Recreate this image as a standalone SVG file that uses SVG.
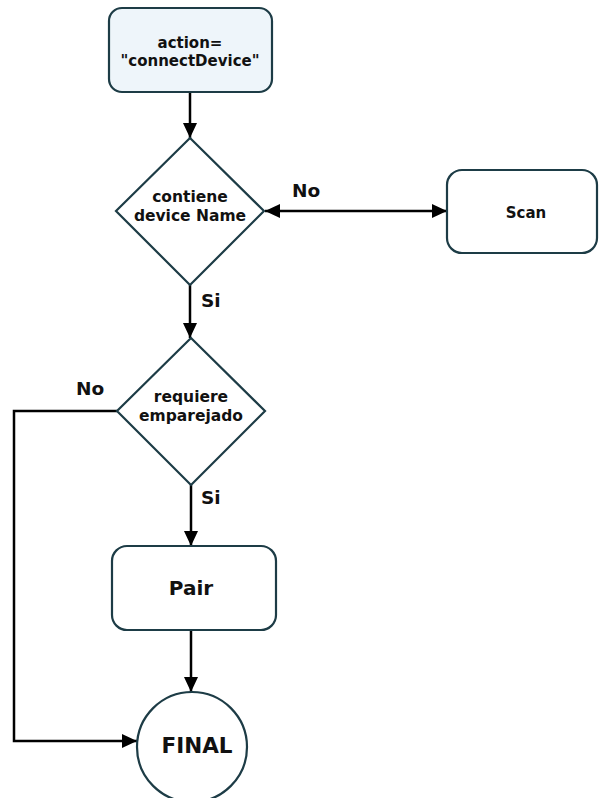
<svg xmlns="http://www.w3.org/2000/svg" width="600" height="798" viewBox="0 0 600 798">
<defs>
<style>
.node{stroke:#1d3c46;stroke-width:2.2;fill:#ffffff}
.start{fill:#eef5fa}
.t{font-family:"DejaVu Sans",Verdana,sans-serif;font-weight:bold;fill:#111;text-anchor:middle}
.lbl{font-family:"DejaVu Sans",Verdana,sans-serif;font-weight:bold;fill:#111;font-size:18.5px}
.c{stroke:#000;stroke-width:2.5;fill:none}
</style>
<marker id="ah" viewBox="0 0 15 14" refX="15" refY="7" markerWidth="15" markerHeight="14" markerUnits="userSpaceOnUse" orient="auto-start-reverse">
<path d="M0,0 L15,7 L0,14 z" fill="#000"/>
</marker>
</defs>
<rect width="600" height="798" fill="#fff"/>
<g id="connectors">
<line class="c" x1="190" y1="92" x2="190" y2="138" marker-end="url(#ah)"/>
<line class="c" x1="265" y1="211" x2="447" y2="211" marker-start="url(#ah)" marker-end="url(#ah)"/>
<line class="c" x1="190" y1="285" x2="190" y2="338" marker-end="url(#ah)"/>
<polyline class="c" points="117,411 14,411 14,741 137,741" marker-end="url(#ah)"/>
<line class="c" x1="191" y1="485" x2="191" y2="546" marker-end="url(#ah)"/>
<line class="c" x1="191" y1="630" x2="191" y2="692" marker-end="url(#ah)"/>
<text class="lbl" x="292" y="197">No</text>
<text class="lbl" x="201" y="307">Si</text>
<text class="lbl" x="76" y="395">No</text>
<text class="lbl" x="201" y="504">Si</text>
</g>
<g id="start">
<rect class="node start" x="109" y="8" width="163" height="84" rx="13"/>
<text class="t" x="190" y="48" font-size="15">action=</text>
<text class="t" x="190" y="66" font-size="15">"connectDevice"</text>
</g>
<g id="decision1">
<polygon class="node" points="190,138 264,211 190,285 116,211"/>
<text class="t" x="190" y="202" font-size="15.5">contiene</text>
<text class="t" x="190" y="221" font-size="15.5">device Name</text>
</g>
<g id="scan">
<rect class="node" x="447" y="170" width="150" height="83" rx="15"/>
<text class="t" x="526" y="218" font-size="15">Scan</text>
</g>
<g id="decision2">
<polygon class="node" points="191,338 265,411 191,485 117,411"/>
<text class="t" x="191" y="402" font-size="15.5">requiere</text>
<text class="t" x="191" y="421" font-size="15.5">emparejado</text>
</g>
<g id="pair">
<rect class="node" x="112" y="546" width="164" height="84" rx="15"/>
<text class="t" x="191" y="595" font-size="20">Pair</text>
</g>
<g id="final">
<circle class="node" cx="192" cy="747" r="55"/>
<text class="t" x="197" y="753" font-size="21.5">FINAL</text>
</g>
</svg>
